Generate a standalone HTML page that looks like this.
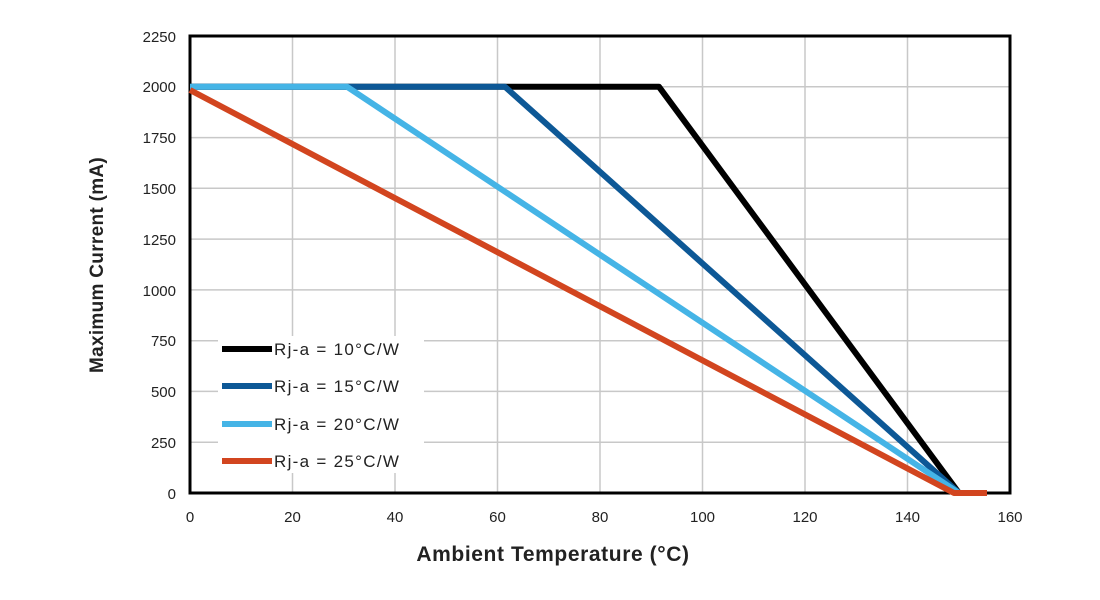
<!DOCTYPE html>
<html><head><meta charset="utf-8"><style>body{margin:0;background:#fff}svg{display:block}text{font-family:"Liberation Sans",sans-serif}</style></head><body>
<svg width="1100" height="600" xmlns="http://www.w3.org/2000/svg">
<g stroke="#c8c8c8" stroke-width="1.5">
<line x1="292.5" y1="36" x2="292.5" y2="493"/><line x1="395" y1="36" x2="395" y2="493"/><line x1="497.5" y1="36" x2="497.5" y2="493"/><line x1="600" y1="36" x2="600" y2="493"/><line x1="702.5" y1="36" x2="702.5" y2="493"/><line x1="805" y1="36" x2="805" y2="493"/><line x1="907.5" y1="36" x2="907.5" y2="493"/>
<line x1="190" y1="86.8" x2="1010" y2="86.8"/><line x1="190" y1="137.6" x2="1010" y2="137.6"/><line x1="190" y1="188.3" x2="1010" y2="188.3"/><line x1="190" y1="239.1" x2="1010" y2="239.1"/><line x1="190" y1="289.9" x2="1010" y2="289.9"/><line x1="190" y1="340.7" x2="1010" y2="340.7"/><line x1="190" y1="391.4" x2="1010" y2="391.4"/><line x1="190" y1="442.2" x2="1010" y2="442.2"/>
</g>
<rect x="190" y="36" width="820" height="457" fill="none" stroke="#000" stroke-width="3"/>
<g font-size="15" fill="#222" text-anchor="end">
<text x="176" y="42">2250</text><text x="176" y="92">2000</text><text x="176" y="143">1750</text><text x="176" y="194">1500</text><text x="176" y="245">1250</text><text x="176" y="296">1000</text><text x="176" y="346">750</text><text x="176" y="397">500</text><text x="176" y="448">250</text><text x="176" y="499">0</text>
</g>
<g font-size="15" fill="#222" text-anchor="middle">
<text x="190" y="522">0</text><text x="292.5" y="522">20</text><text x="395" y="522">40</text><text x="497.5" y="522">60</text><text x="600" y="522">80</text><text x="702.5" y="522">100</text><text x="805" y="522">120</text><text x="907.5" y="522">140</text><text x="1010" y="522">160</text>
</g>
<text x="553" y="561" font-size="21" font-weight="bold" text-anchor="middle" fill="#222" letter-spacing="0.6">Ambient Temperature (°C)</text>
<text transform="translate(103,265) rotate(-90)" font-size="19" font-weight="bold" text-anchor="middle" fill="#222" letter-spacing="0.3">Maximum Current (mA)</text>
<g fill="none" stroke-width="6" stroke-linejoin="round">
<polyline stroke="#000" points="190,86.8 659,86.8 959,493"/>
<polyline stroke="#0d5896" points="190,86.8 505,86.8 959,493"/>
<polyline stroke="#45b4e6" points="190,86.8 347,86.8 959,493"/>
<polyline stroke="#d2451f" points="190,90 954,493 987,493"/>
</g>
<rect x="218" y="336" width="206" height="137" fill="#fff"/>
<g stroke-width="6">
<line x1="222" y1="349" x2="272" y2="349" stroke="#000"/>
<line x1="222" y1="386" x2="272" y2="386" stroke="#0d5896"/>
<line x1="222" y1="424" x2="272" y2="424" stroke="#45b4e6"/>
<line x1="222" y1="461" x2="272" y2="461" stroke="#d2451f"/>
</g>
<g font-size="17" fill="#222" letter-spacing="1.3">
<text x="274" y="355">Rj-a = 10°C/W</text><text x="274" y="392">Rj-a = 15°C/W</text><text x="274" y="430">Rj-a = 20°C/W</text><text x="274" y="467">Rj-a = 25°C/W</text>
</g>
</svg>
</body></html>
